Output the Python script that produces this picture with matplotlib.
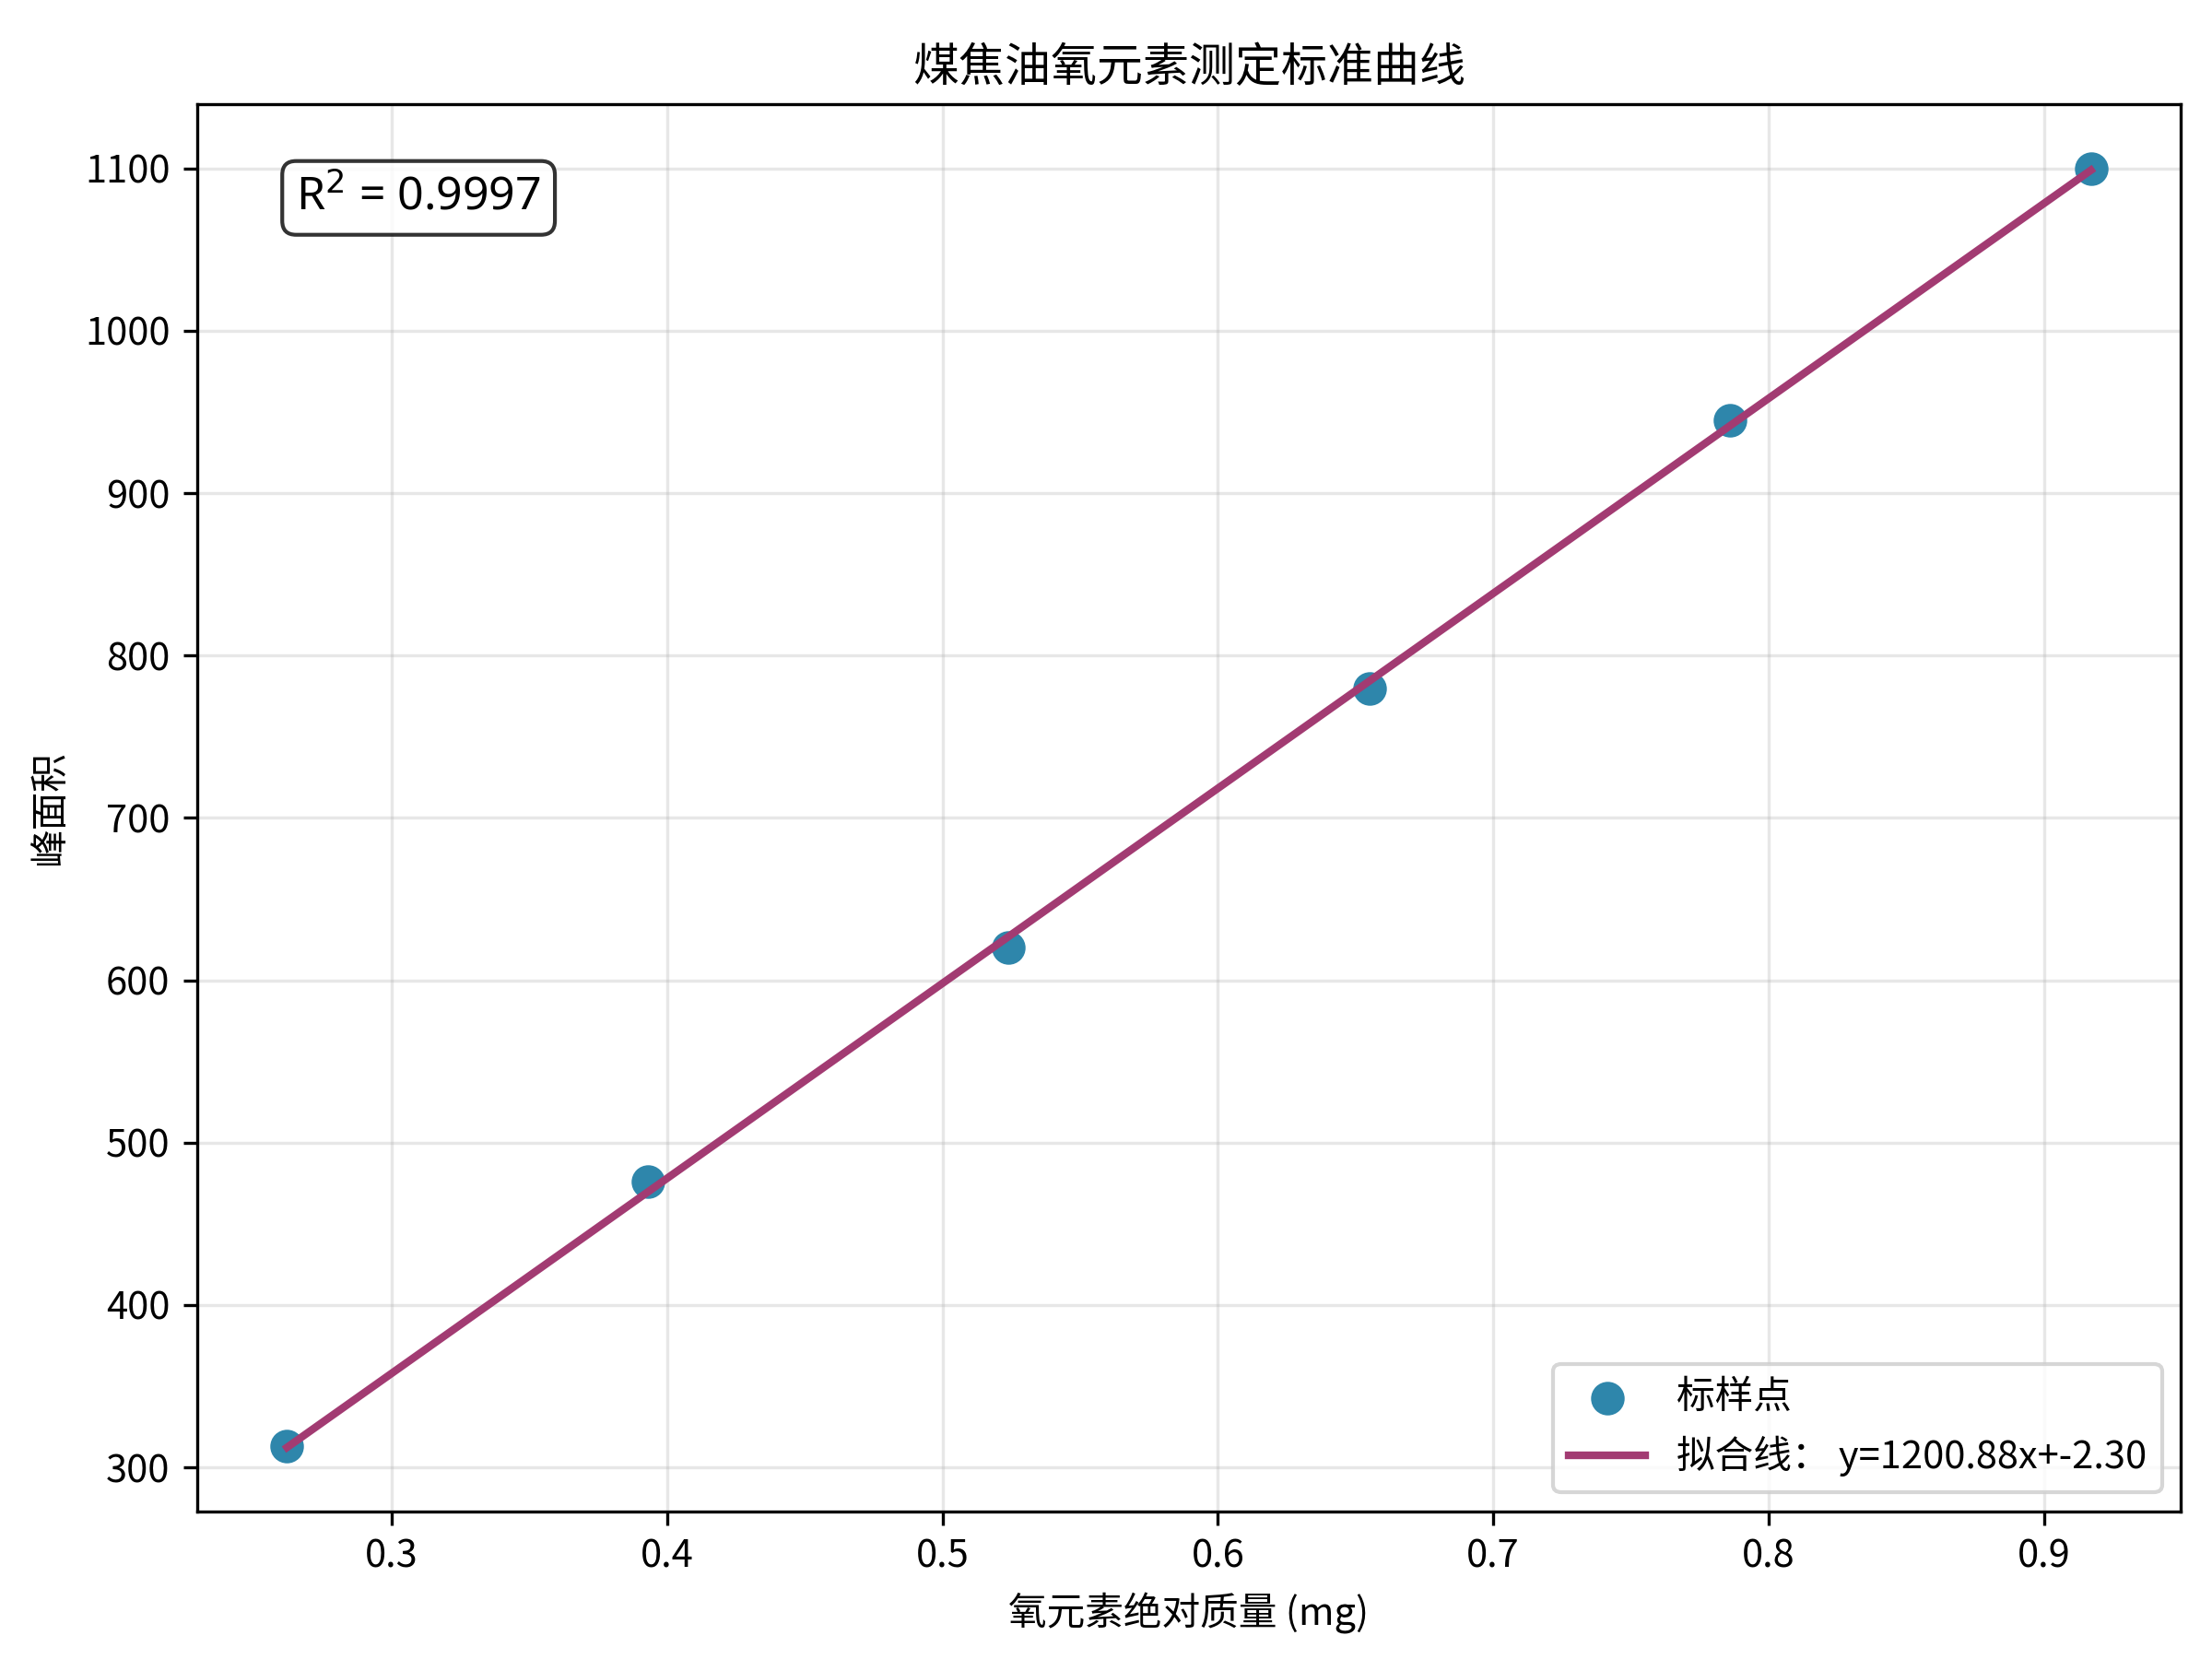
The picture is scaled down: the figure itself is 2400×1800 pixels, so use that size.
import matplotlib
matplotlib.use("Agg")
import matplotlib.pyplot as plt
import numpy as np

plt.rcParams['font.family'] = ['Noto Sans CJK SC', 'DejaVu Sans']
plt.rcParams['axes.unicode_minus'] = False

# 标样数据
mass_mg = [0.262, 0.393, 0.524, 0.655, 0.786, 0.917]
peak_area = [313, 476, 620, 780, 945, 1100]

# 拟合结果 (图中读取)
slope = 1200.88
intercept = -2.30
r2 = 0.9997

fig, ax = plt.subplots(figsize=(8, 6), dpi=300)

ax.scatter(mass_mg, peak_area, s=60, color='#2E86AB', label='标样点', zorder=3)
xf = np.array([min(mass_mg), max(mass_mg)])
ax.plot(xf, slope * xf + intercept, color='#A23B72', lw=2,
        label=f'拟合线： y={slope:.2f}x+{intercept:.2f}', zorder=4)

ax.set_xlabel('氧元素绝对质量 (mg)')
ax.set_ylabel('峰面积')
ax.set_title('煤焦油氧元素测定标准曲线', fontsize=12)
ax.grid(True, alpha=0.3)
ax.legend(loc='lower right')

ax.text(0.05, 0.95, f'R$^2$ = {r2:.4f}', transform=ax.transAxes, fontsize=12,
        family=['Noto Sans', 'DejaVu Sans'], va='top',
        bbox=dict(boxstyle='round', facecolor='white', alpha=0.8))

fig.subplots_adjust(left=0.089, right=0.986, top=0.937, bottom=0.089)
plt.savefig('out.png', dpi=300)
